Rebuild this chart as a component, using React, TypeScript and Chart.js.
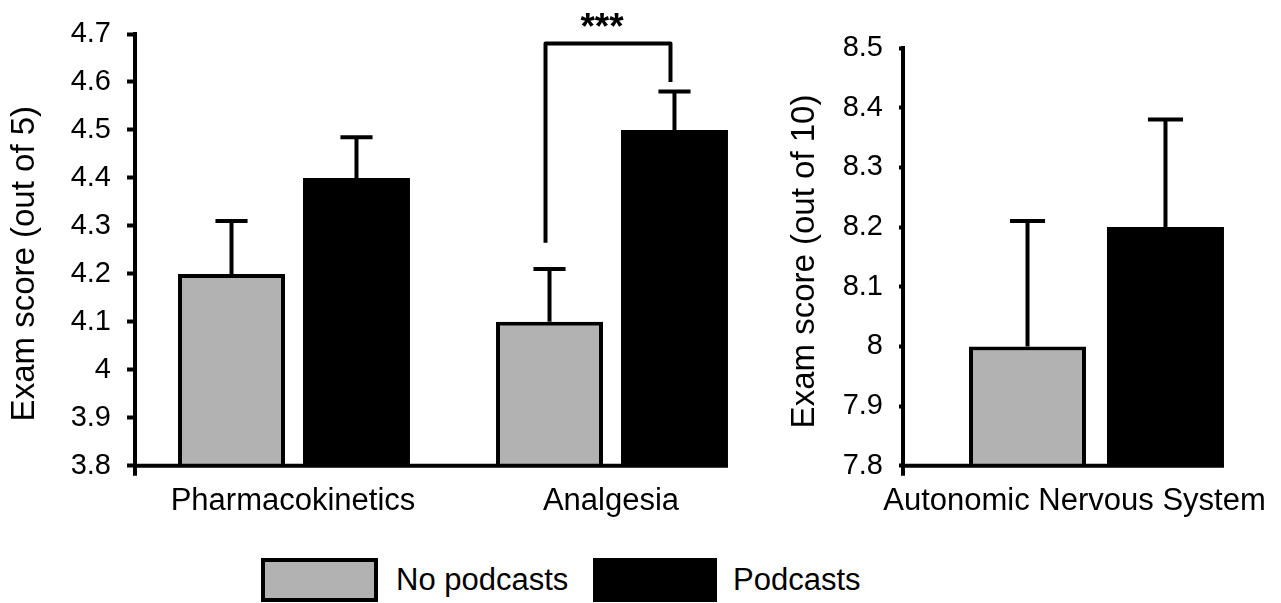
import React, { useEffect, useRef } from "react";
import { Chart, registerables } from "chart.js";

Chart.register(...registerables);

const FONT = "'Liberation Sans', Arial, Helvetica, sans-serif";

// ---- data ----
const seriesNames = ["No podcasts", "Podcasts"];
const seriesColors = ["#b2b2b2", "#000000"];

const leftCategories = ["Pharmacokinetics", "Analgesia"];
const leftNoPodcasts = [4.2, 4.1];
const leftPodcasts = [4.4, 4.5];
const leftNoPodcastsErr = [0.11, 0.11];
const leftPodcastsErr = [0.085, 0.08];
const leftYRange = [3.8, 4.7];
const leftYTitle = "Exam score (out of 5)";

const rightCategories = ["Autonomic Nervous System"];
const rightNoPodcasts = [8.0];
const rightPodcasts = [8.2];
const rightNoPodcastsErr = [0.21];
const rightPodcastsErr = [0.18];
const rightYRange = [7.8, 8.5];
const rightYTitle = "Exam score (out of 10)";

const tickStep = 0.1;

// significance bracket on the "Analgesia" group: left leg bottom, top, right leg bottom
const bracketCategory = 1;
const bracketValues = [4.265, 4.68, 4.6];
const bracketLabel = "***";

const fmtTick = (v: any) => String(parseFloat(Number(v).toFixed(2)));

// ---- plugins ----
function errorBarsPlugin(errors: number[][]) {
  return {
    id: "errorBars",
    afterDatasetsDraw(chart: any) {
      const ctx = chart.ctx;
      const ys = chart.scales.y;
      ctx.save();
      ctx.strokeStyle = "#000";
      ctx.lineWidth = 4;
      ctx.lineCap = "butt";
      chart.data.datasets.forEach((ds: any, i: number) => {
        const meta = chart.getDatasetMeta(i);
        meta.data.forEach((bar: any, j: number) => {
          const { x, y, width } = bar.getProps(["x", "y", "width"], true);
          const ey = ys.getPixelForValue(ds.data[j] + errors[i][j]);
          const cap = width * 0.3;
          ctx.beginPath();
          ctx.moveTo(x, y);
          ctx.lineTo(x, ey);
          ctx.moveTo(x - cap / 2, ey);
          ctx.lineTo(x + cap / 2, ey);
          ctx.stroke();
        });
      });
      ctx.restore();
    },
  };
}

const baselinePlugin = {
  id: "baseline",
  afterDatasetsDraw(chart: any) {
    const ctx = chart.ctx;
    const { left, bottom } = chart.chartArea;
    let right = left;
    chart.data.datasets.forEach((_ds: any, i: number) => {
      chart.getDatasetMeta(i).data.forEach((bar: any) => {
        const { x, width } = bar.getProps(["x", "width"], true);
        right = Math.max(right, x + width / 2);
      });
    });
    ctx.save();
    ctx.strokeStyle = "#000";
    ctx.lineWidth = 4;
    ctx.beginPath();
    ctx.moveTo(left - 2, bottom);
    ctx.lineTo(right, bottom);
    // small extension of the value axis below the baseline
    ctx.moveTo(left, bottom);
    ctx.lineTo(left, bottom + 10);
    ctx.stroke();
    ctx.restore();
  },
};

const bracketPlugin = {
  id: "bracket",
  afterDatasetsDraw(chart: any) {
    const ctx = chart.ctx;
    const ys = chart.scales.y;
    const b0 = chart.getDatasetMeta(0).data[bracketCategory];
    const b1 = chart.getDatasetMeta(1).data[bracketCategory];
    const xl = b0.x - 4;
    const xr = b1.x - 4;
    const yl = ys.getPixelForValue(bracketValues[0]);
    const yt = ys.getPixelForValue(bracketValues[1]);
    const yr = ys.getPixelForValue(bracketValues[2]);
    ctx.save();
    ctx.strokeStyle = "#000";
    ctx.lineWidth = 4;
    ctx.lineJoin = "round";
    ctx.beginPath();
    ctx.moveTo(xl, yl);
    ctx.lineTo(xl, yt);
    ctx.lineTo(xr, yt);
    ctx.lineTo(xr, yr);
    ctx.stroke();
    ctx.fillStyle = "#000";
    ctx.font = `bold 37px ${FONT}`;
    ctx.textAlign = "center";
    ctx.textBaseline = "alphabetic";
    ctx.fillText(bracketLabel, (xl + xr) / 2 - 6, yt - 5);
    ctx.restore();
  },
};

type PanelProps = {
  categories: string[];
  a: number[];
  b: number[];
  aErr: number[];
  bErr: number[];
  range: number[];
  title: string;
  left: number;
  width: number;
  height: number;
  padTop: number;
  axisWidth: number;
  tickLength: number;
  tickPadding: number;
  titlePad: number;
  labelOffset: number;
  catPct: number;
  barPct: number;
  extraPlugins: any[];
};

function Panel(p: PanelProps) {
  const ref = useRef<HTMLCanvasElement | null>(null);
  useEffect(() => {
    if (!ref.current) return;
    const chart = new Chart(ref.current, {
      type: "bar",
      data: {
        labels: p.categories,
        datasets: [
          {
            label: seriesNames[0],
            data: p.a,
            backgroundColor: seriesColors[0],
            borderColor: "#000",
            borderWidth: 4,
            borderSkipped: false,
            categoryPercentage: p.catPct,
            barPercentage: p.barPct,
          },
          {
            label: seriesNames[1],
            data: p.b,
            backgroundColor: seriesColors[1],
            borderWidth: 0,
            categoryPercentage: p.catPct,
            barPercentage: p.barPct,
          },
        ],
      },
      options: {
        animation: false,
        responsive: false,
        maintainAspectRatio: false,
        layout: { padding: { top: p.padTop, left: 0, right: 0, bottom: 0 } },
        plugins: {
          legend: { display: false },
          tooltip: { enabled: false },
        },
        scales: {
          x: {
            offset: true,
            grid: { display: false, drawTicks: false },
            border: { display: false },
            ticks: {
              color: "#000",
              font: { family: FONT, size: 31 },
              padding: 17,
              labelOffset: p.labelOffset,
              maxRotation: 0,
              minRotation: 0,
              autoSkip: false,
            },
            afterFit: (s: any) => {
              s.paddingLeft = 0;
              s.paddingRight = 0;
            },
          },
          y: {
            min: p.range[0],
            max: p.range[1],
            ticks: {
              stepSize: tickStep,
              color: "#000",
              font: { family: FONT, size: 29 },
              padding: p.tickPadding,
              autoSkip: false,
              callback: fmtTick,
            },
            grid: {
              drawOnChartArea: false,
              drawTicks: true,
              tickLength: p.tickLength,
              tickWidth: 4,
              tickColor: "#000",
            },
            border: { display: true, color: "#000", width: 4 },
            title: {
              display: true,
              text: p.title,
              color: "#000",
              font: { family: FONT, size: 33 },
              padding: { top: p.titlePad, bottom: 0 },
            },
            afterFit: (s: any) => {
              s.width = p.axisWidth;
            },
          },
        },
      } as any,
      plugins: [
        baselinePlugin,
        errorBarsPlugin([p.aErr, p.bErr]),
        ...p.extraPlugins,
      ],
    });
    return () => chart.destroy();
  }, []);
  return (
    <canvas
      ref={ref}
      width={p.width}
      height={p.height}
      style={{ position: "absolute", left: p.left, top: 0, width: p.width, height: p.height }}
    />
  );
}

export default function App() {
  const legendText: React.CSSProperties = {
    position: "absolute",
    top: 564,
    fontFamily: FONT,
    fontSize: 31,
    lineHeight: "31px",
    color: "#000",
    whiteSpace: "nowrap",
  };
  return (
    <div
      style={{
        position: "fixed",
        left: 0,
        top: 0,
        width: 1281,
        height: 603,
        overflow: "hidden",
        background: "#fff",
      }}
    >
      <Panel
        categories={leftCategories}
        a={leftNoPodcasts}
        b={leftPodcasts}
        aErr={leftNoPodcastsErr}
        bErr={leftPodcastsErr}
        range={leftYRange}
        title={leftYTitle + "\u00A0\u00A0\u00A0"}
        left={0}
        width={771}
        height={537}
        padTop={34}
        axisWidth={135}
        tickLength={8}
        tickPadding={16}
        titlePad={5}
        labelOffset={-1}
        catPct={0.786}
        barPct={0.856}
        extraPlugins={[bracketPlugin]}
      />
      <Panel
        categories={rightCategories}
        a={rightNoPodcasts}
        b={rightPodcasts}
        aErr={rightNoPodcastsErr}
        bErr={rightPodcastsErr}
        range={rightYRange}
        title={rightYTitle + "\u00A0"}
        left={770}
        width={520}
        height={537}
        padTop={48}
        axisWidth={133}
        tickLength={4}
        tickPadding={16}
        titlePad={15}
        labelOffset={-22}
        catPct={0.713}
        barPct={0.848}
        extraPlugins={[]}
      />
      <div
        style={{
          position: "absolute",
          left: 261,
          top: 558,
          width: 117,
          height: 44,
          boxSizing: "border-box",
          border: "4px solid #000",
          background: seriesColors[0],
        }}
      />
      <div style={{ ...legendText, left: 396 }}>{seriesNames[0]}</div>
      <div
        style={{
          position: "absolute",
          left: 593,
          top: 558,
          width: 124,
          height: 44,
          background: seriesColors[1],
        }}
      />
      <div style={{ ...legendText, left: 733 }}>{seriesNames[1]}</div>
    </div>
  );
}
